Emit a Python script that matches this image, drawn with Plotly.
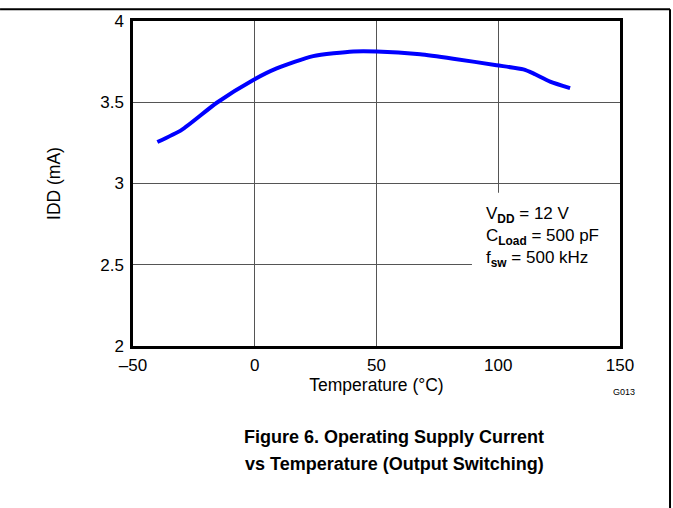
import plotly.graph_objects as go

temperature = [-40, -30, -15.6, -0.6, 9, 24, 40.5, 50, 67.9, 81.5, 99.3, 110.3, 114.4, 121.3, 129.5]
idd_ma = [3.255, 3.33, 3.497, 3.637, 3.708, 3.784, 3.813, 3.813, 3.795, 3.768, 3.728, 3.702, 3.678, 3.627, 3.587]

x_ticks = [-50, 0, 50, 100, 150]
x_tick_text = ["\u201350", "0", "50", "100", "150"]
y_ticks = [2, 2.5, 3, 3.5, 4]
y_tick_text = ["2", "2.5", "3", "3.5", "4"]

FONT = "Liberation Sans, Arial, sans-serif"

fig = go.Figure()
fig.add_trace(go.Scatter(x=temperature, y=idd_ma, mode="lines",
                         line=dict(color="#0000FF", width=4, shape="spline", smoothing=0.6),
                         hoverinfo="skip", showlegend=False))

fig.update_layout(
    width=673, height=508,
    margin=dict(l=133, r=53, t=15, b=162),
    paper_bgcolor="white", plot_bgcolor="white",
    font=dict(family=FONT, size=17, color="black"),
    showlegend=False,
)
fig.update_xaxes(range=[-50, 150], tickvals=x_ticks, ticktext=x_tick_text,
                 showgrid=True, gridcolor="#555555", gridwidth=1,
                 showline=True, linecolor="black", linewidth=2.5, mirror=True,
                 ticks="", zeroline=False, ticklabelstandoff=2,
                 tickfont=dict(size=17),
                 title=dict(text="Temperature (\u00b0C)", font=dict(size=17.5), standoff=0))
fig.update_yaxes(range=[2, 4], tickvals=y_ticks, ticktext=y_tick_text,
                 showgrid=True, gridcolor="#555555", gridwidth=1,
                 showline=True, linecolor="black", linewidth=2.5, mirror=True,
                 ticks="", zeroline=False, ticklabelstandoff=3,
                 tickfont=dict(size=17),
                 title=dict(text="IDD (mA)", font=dict(size=17.5), standoff=36))

# white box behind the condition text (covers gridlines)
fig.add_shape(type="rect", xref="x", yref="y", x0=89.2, x1=150, y0=2, y1=2.943,
              fillcolor="white", line=dict(width=0), layer="between")

fig.add_annotation(xref="x", yref="y", x=94, y=2.885, xanchor="left", yanchor="top",
                   align="left", showarrow=False, font=dict(size=17),
                   text="V<sub><b>DD</b></sub> = 12 V<br>C<sub><b>Load</b></sub> = 500 pF<br>f<sub><b>sw</b></sub> = 500 kHz")

fig.add_annotation(xref="paper", yref="paper", x=1.035, y=-0.141, xanchor="right", yanchor="middle",
                   showarrow=False, text="G013", font=dict(size=9))

fig.add_annotation(xref="paper", yref="paper", x=0.536, y=-0.281, xanchor="center", yanchor="middle",
                   showarrow=False, font=dict(size=18),
                   text="<b>Figure 6. Operating Supply Current</b>")
fig.add_annotation(xref="paper", yref="paper", x=0.536, y=-0.3625, xanchor="center", yanchor="middle",
                   showarrow=False, font=dict(size=18),
                   text="<b>vs Temperature (Output Switching)</b>")

# page frame lines (drawn in pixels relative to paper)
fig.add_shape(type="line", xref="paper", yref="paper", x0=-0.273, x1=1.1027, y0=1.036, y1=1.036,
              line=dict(color="black", width=2))
fig.add_shape(type="line", xref="paper", yref="paper", x0=1.1027, x1=1.1027, y0=1.036, y1=-0.55,
              line=dict(color="black", width=2))

fig.write_html("out.html", config={"displayModeBar": False},
               post_script="document.body.style.margin='0';")
